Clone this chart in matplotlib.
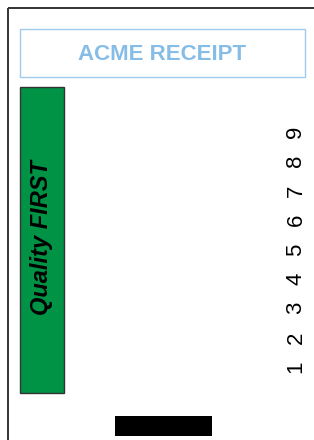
import matplotlib
matplotlib.use('Agg')
import matplotlib.pyplot as plt
from matplotlib.patches import Rectangle

# 数据
title = 'ACME RECEIPT'
tagline = 'Quality FIRST'
digits = ['1', '2', '3', '4', '5', '6', '7', '8', '9']

plt.rcParams['font.family'] = ['Liberation Sans', 'DejaVu Sans']

W, H = 314, 440
fig = plt.figure(figsize=(W / 100, H / 100), dpi=100)
ax = fig.add_axes([0, 0, 1, 1])
ax.set_xlim(0, W)
ax.set_ylim(H, 0)
ax.axis('off')

# 外框
ax.add_patch(Rectangle((7.5, 8.5), 330, 460, fill=False, edgecolor='#333333', linewidth=1.4))

# 标题框
ax.add_patch(Rectangle((19.5, 29.5), 285, 48, fill=False, edgecolor='#9fcbec', linewidth=1.0))
ax.text(162, 54.5, title, ha='center', va='center', fontsize=16, fontweight='bold', color='#86bde6')

# 绿色竖条
ax.add_patch(Rectangle((19.5, 87.5), 44, 306, facecolor='#009245', edgecolor='#333333', linewidth=1.0))
ax.text(41.5, 238, tagline, ha='center', va='center', rotation=90, fontsize=17,
        fontweight='bold', fontstyle='italic', color='black')

# 数字
y0, step = 367, 29.4
for i, d in enumerate(digits):
    ax.text(296, y0 - i * step, d, ha='center', va='center', rotation=90, fontsize=16, color='black')

# 底部黑条
ax.add_patch(Rectangle((115, 416), 97, 20, facecolor='black', edgecolor='none'))

fig.savefig('out.png', dpi=100)
